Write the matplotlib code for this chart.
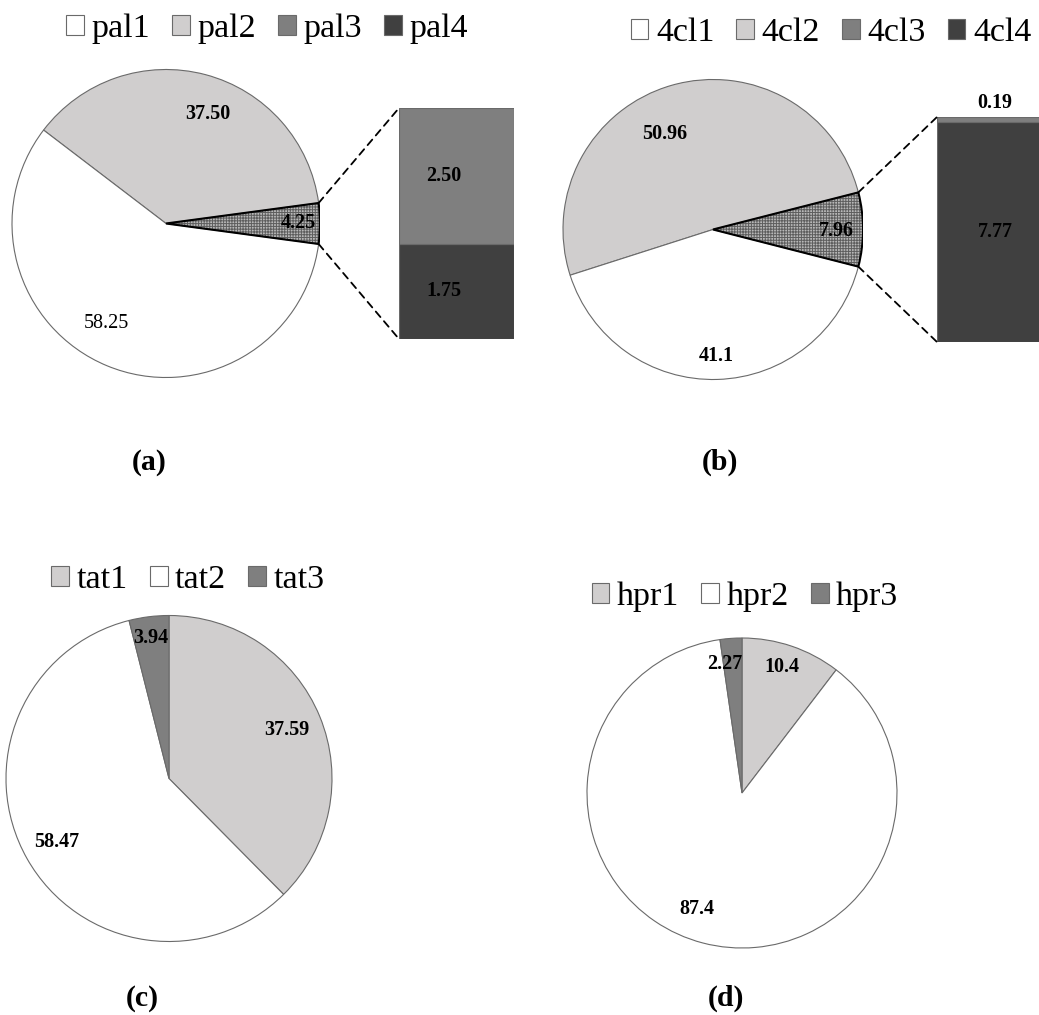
import math
import matplotlib
matplotlib.use("Agg")
import matplotlib.pyplot as plt
from matplotlib.patches import Wedge, ConnectionPatch

plt.rcParams['font.family'] = ['Liberation Serif', 'DejaVu Serif']
plt.rcParams['hatch.linewidth'] = 0.7

# ---- data ----
pal_names = ['pal1', 'pal2', 'pal3', 'pal4']
pal_values = [58.25, 37.50, 2.50, 1.75]

cl_names = ['4cl1', '4cl2', '4cl3', '4cl4']
cl_values = [41.1, 50.96, 0.19, 7.77]

tat_names = ['tat1', 'tat2', 'tat3']
tat_values = [37.59, 58.47, 3.94]

hpr_names = ['hpr1', 'hpr2', 'hpr3']
hpr_values = [10.4, 87.4, 2.27]

panel_tags = ['(a)', '(b)', '(c)', '(d)']

# ---- styling ----
WHITE = '#ffffff'
LIGHT = '#d0cece'
MID = '#7f7f7f'
DARK = '#404040'
EDGE = '#6a6a6a'
W, H = 1039, 1015

fig = plt.figure(figsize=(W / 100, H / 100), dpi=100)


def box(x0, y0, x1, y1):
    """Pixel box (top-left origin) -> figure fraction rect."""
    return [x0 / W, 1 - y1 / H, (x1 - x0) / W, (y1 - y0) / H]


def pie_axes(cx, cy, r):
    return fig.add_axes(box(cx - r, cy - r, cx + r, cy + r))


def finish_pie(ax):
    ax.set_xlim(-1, 1)
    ax.set_ylim(-1, 1)
    ax.set_aspect('equal')
    ax.axis('off')


LBL = dict(fontsize=14.5, fontweight='bold', ha='center', va='center')
LEG = dict(frameon=False, loc='center', fontsize=24.5, handlelength=0.52,
           handleheight=0.5, handletextpad=0.22, columnspacing=0.65,
           borderpad=0, borderaxespad=0)


def bar_of_pie(cx, cy, r, bar_box, first, second, tail_top, tail_bottom,
               names, fmt, pos, bar_lbl_dx, small_top_label, leg_xy, plain=()):
    other = tail_top + tail_bottom
    ax = pie_axes(cx, cy, r)
    vals = [other, second, first]
    start = -other * 3.6 / 2
    wedges, _ = ax.pie(vals, colors=['#b8b8b8', LIGHT, WHITE], startangle=start,
                       counterclock=True, radius=1,
                       wedgeprops=dict(edgecolor=EDGE, linewidth=0.8))
    finish_pie(ax)
    ow = wedges[0]
    ow.set_edgecolor('#5e5e5e')
    ow.set_linewidth(0)
    ow.set_hatch('++++++')
    ax.add_patch(Wedge(ow.center, ow.r, ow.theta1, ow.theta2, fill=False,
                       edgecolor='black', linewidth=1.5))
    # value labels on the pie
    for i, (v, (px, py)) in enumerate(zip([first, second, other], pos)):
        kw = dict(LBL)
        if i in plain:
            kw['fontweight'] = 'normal'
        ax.text(px, py, fmt.format(v), **kw)

    # stacked bar for the small slice
    bx = fig.add_axes(box(*bar_box))
    bx.axis('off')
    bx.set_xlim(-0.5, 0.5)
    bx.set_ylim(0, other)
    b_bot = bx.bar(0, tail_bottom, width=1, color=DARK, edgecolor=EDGE, linewidth=0.8)
    b_top = bx.bar(0, tail_top, bottom=tail_bottom, width=1, color=MID,
                   edgecolor=EDGE, linewidth=0.8)
    bx.text(bar_lbl_dx, tail_bottom / 2, fmt.format(tail_bottom), **LBL)
    if small_top_label:
        bx.annotate(fmt.format(tail_top), (0, other), xytext=(0, 3),
                    textcoords='offset points', fontsize=14.5, fontweight='bold',
                    ha='center', va='bottom', annotation_clip=False)
    else:
        bx.text(bar_lbl_dx, tail_bottom + tail_top / 2, fmt.format(tail_top), **LBL)

    # dashed connectors from the slice edges to the bar corners
    for ang, yb in [(ow.theta2, other), (ow.theta1, 0)]:
        a = math.radians(ang)
        con = ConnectionPatch(xyA=(math.cos(a), math.sin(a)), coordsA=ax.transData,
                              xyB=(-0.5, yb), coordsB=bx.transData,
                              linestyle=(0, (4, 3)), color='black', linewidth=1.3)
        fig.add_artist(con)

    handles = [wedges[2], wedges[1], b_top.patches[0], b_bot.patches[0]]
    fig.legend(handles, names, ncol=4,
               bbox_to_anchor=(leg_xy[0] / W, 1 - leg_xy[1] / H), **LEG)


def simple_pie(cx, cy, r, values, names, fmt, pos, leg_xy):
    ax = pie_axes(cx, cy, r)
    wedges, _ = ax.pie(values, colors=[LIGHT, WHITE, MID], startangle=90,
                       counterclock=False, radius=1,
                       wedgeprops=dict(edgecolor=EDGE, linewidth=0.8))
    finish_pie(ax)
    for v, (px, py) in zip(values, pos):
        ax.text(px, py, fmt.format(v), **LBL)
    fig.legend(wedges, names, ncol=3,
               bbox_to_anchor=(leg_xy[0] / W, 1 - leg_xy[1] / H), **LEG)


# (a)
bar_of_pie(166, 223.5, 154, (399, 108, 514, 339),
           pal_values[0], pal_values[1], pal_values[2], pal_values[3],
           pal_names, '{:.2f}',
           [(-0.39, -0.65), (0.27, 0.71), (0.86, 0.0)], -0.11, False,
           (267, 29), plain=(0,))

# (b)
bar_of_pie(713, 229.5, 150, (937, 117, 1053, 342),
           cl_values[0], cl_values[1], cl_values[2], cl_values[3],
           cl_names, '{:g}',
           [(0.02, -0.84), (-0.32, 0.64), (0.82, -0.01)], 0.0, True,
           (831, 33))

# (c)
simple_pie(169, 778.5, 163, tat_values, tat_names, '{:.2f}',
           [(0.72, 0.30), (-0.69, -0.39), (-0.11, 0.86)], (188, 580))

# (d)
simple_pie(742, 793, 155, hpr_values, hpr_names, '{:g}',
           [(0.26, 0.81), (-0.29, -0.75), (-0.11, 0.83)], (745, 597))

# panel tags
for tag, (x, y) in zip(panel_tags, [(149, 462), (720, 462), (142, 998), (726, 998)]):
    fig.text(x / W, 1 - y / H, tag, fontsize=21.5, fontweight='bold',
             ha='center', va='center')

fig.savefig('out.png', dpi=100)
